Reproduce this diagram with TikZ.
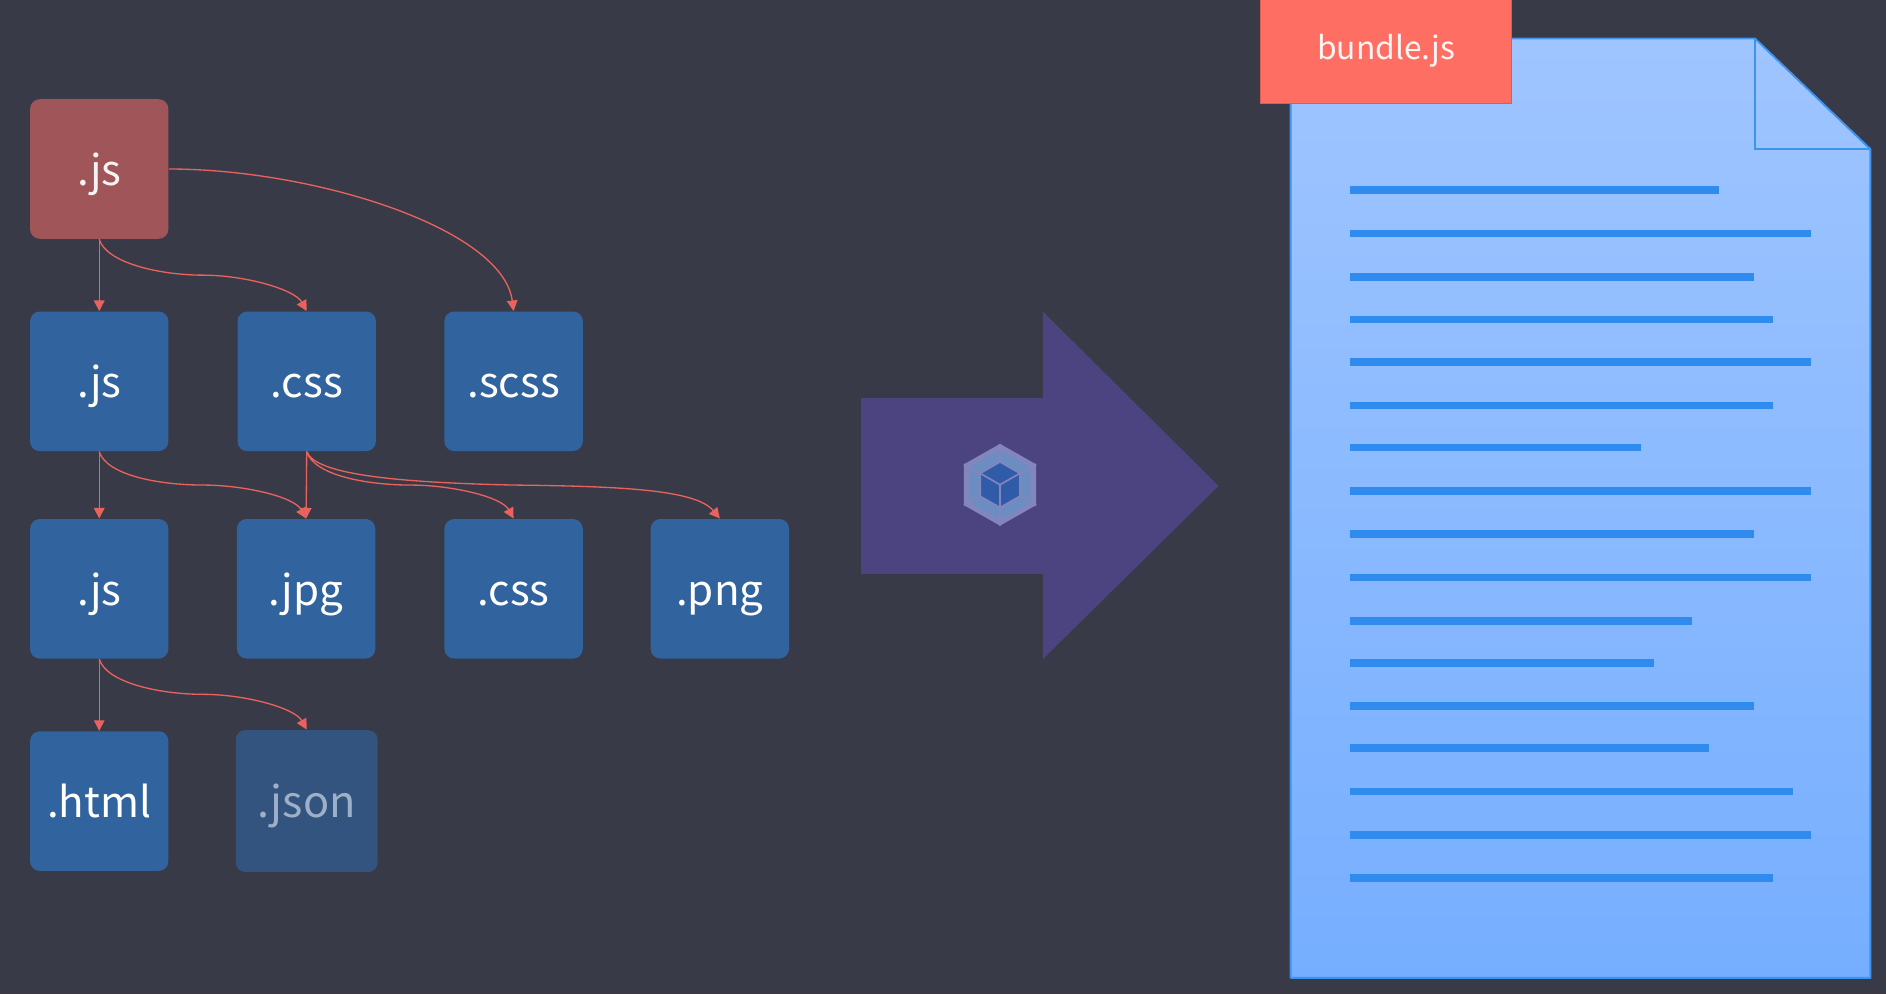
\documentclass[tikz,border=0pt]{standalone}
\usepackage{fontspec}
\setmainfont{Noto Sans CJK SC}
\usetikzlibrary{arrows.meta,calc}
\definecolor{bgc}{HTML}{393A47}
\definecolor{filec}{HTML}{31639E}
\definecolor{redc}{HTML}{A05558}
\definecolor{dimc}{HTML}{33547F}
\definecolor{dimt}{HTML}{9EAFC9}
\definecolor{linkc}{HTML}{E9625D}
\definecolor{bigc}{HTML}{4C4480}
\definecolor{docs}{HTML}{3D94EE}
\definecolor{doct}{HTML}{9FC5FF}
\definecolor{docb}{HTML}{76AEFF}
\definecolor{barc}{HTML}{2F8CEE}
\definecolor{labc}{HTML}{FF6E63}
\definecolor{hexo}{HTML}{8286BC}
\definecolor{hexp}{HTML}{6C8DC2}
\definecolor{hexc}{HTML}{2F5BA8}
\tikzset{
  filebox/.style={fill=filec,rounded corners=4pt,minimum width=57.5pt,minimum height=58pt,inner sep=0pt,
    text=white,font=\fontsize{17.5}{17.5}\selectfont,text height=17.5pt,text depth=4pt},
  link/.style={draw=linkc,line width=0.55pt,-{Triangle[length=4.4pt,width=4.4pt]}},
  textbar/.style={draw=barc,line width=3.2pt},
}
\newcommand{\scurve}[2]{\draw[link] (#1) .. controls +(6,20) and +(-35,0) .. ($(#1)!.5!(#2)$) .. controls +(35,0) and +(-10,-18) .. (#2);}
\begin{document}
\begin{tikzpicture}[x=0.5pt,y=-0.5pt]
\fill[bgc] (0,0) rectangle (1568,826.4);
\useasboundingbox (0,0) rectangle (1568,826.4);
% boxes
\node[filebox,fill=redc,text=white!93!redc] (r) at (82.5,140.5) {.js};
\node[filebox] (a1) at (82.5,317) {.js};
\node[filebox] (a2) at (255,317) {.css};
\node[filebox] (a3) at (427,317) {.scss};
\node[filebox] (b1) at (82.5,489.5) {.js};
\node[filebox] (b2) at (254.5,489.5) {.jpg};
\node[filebox] (b3) at (427,489.5) {.css};
\node[filebox] (b4) at (598.5,489.5) {.png};
\node[filebox] (c1) at (82.5,666) {.html};
\node[filebox,fill=dimc,text=dimt,minimum width=59pt,minimum height=59pt,font=\fontsize{18}{18}\selectfont] (c2) at (255,666) {.json};
% connectors
\draw[link] (r.south) -- (a1.north);
\scurve{r.south}{a2.north}
\draw[link] (r.east) .. controls +(120,0) and +(-9,-69) .. (a3.north);
\draw[link] (a1.south) -- (b1.north);
\scurve{a1.south}{b2.north}
\draw[link] (a2.south) -- (b2.north);
\scurve{a2.south}{b3.north}
\draw[link] (a2.south) .. controls +(7,20) and +(-90,-2) .. ($(a2.south)!.5!(b4.north)$) .. controls +(90,1) and +(-20,-24) .. (b4.north);
\draw[link] (b1.south) -- (c1.north);
\scurve{b1.south}{c2.north}
% big arrow
\fill[bigc] (716,331) -- (867,331) -- (867,259) -- (1013,404) -- (867,548) -- (867,477) -- (716,477) -- cycle;
% logo
\begin{scope}[shift={(831.4,403)}]
\fill[hexo] (0,-34) -- (30,-17) -- (30,17) -- (0,34) -- (-30,17) -- (-30,-17) -- cycle;
\fill[hexp] (0,-29) -- (25.5,-14.5) -- (25.5,14.5) -- (0,29) -- (-25.5,14.5) -- (-25.5,-14.5) -- cycle;
\draw[hexo,line width=0.9pt] (0,-34) -- (0,-18) (30,-17) -- (15.6,-9) (30,17) -- (15.6,9) (0,34) -- (0,18) (-30,17) -- (-15.6,9) (-30,-17) -- (-15.6,-9);
\fill[hexc,draw=hexo,line width=0.7pt] (0,-19) -- (16.5,-9.5) -- (16.5,9.5) -- (0,19) -- (-16.5,9.5) -- (-16.5,-9.5) -- cycle;
\draw[hexo,line width=0.7pt] (0,0) -- (16.5,-9.5) (0,0) -- (-16.5,-9.5) (0,0) -- (0,19);
\end{scope}
% document
\shade[top color=doct,bottom color=docb,draw=docs,line width=0.8pt,line join=round]
  (1073,32) -- (1459,32) -- (1555,124) -- (1555,813) -- (1073,813) -- cycle;
\draw[docs,line width=0.8pt] (1459,32) -- (1459,124) -- (1555,124);
\foreach \y/\e in {158/1429,194/1506,230/1458,265.5/1474,301/1506,337/1474,372/1364,408/1506,444/1458,480/1506,516/1407,551/1375,587/1458,622/1421,658/1491,694/1506,730/1474}
  \draw[textbar] (1122,\y) -- (\e,\y);
% label
\node[fill=labc,draw=labc!85!black,line width=0.4pt,minimum width=104.5pt,minimum height=44pt,inner sep=0pt,text=white!93!labc,
  font=\fontsize{13.2}{13.2}\selectfont,text height=11.3pt,text depth=4pt] (lab) at (1152.5,42) {bundle.js};
\end{tikzpicture}
\end{document}
